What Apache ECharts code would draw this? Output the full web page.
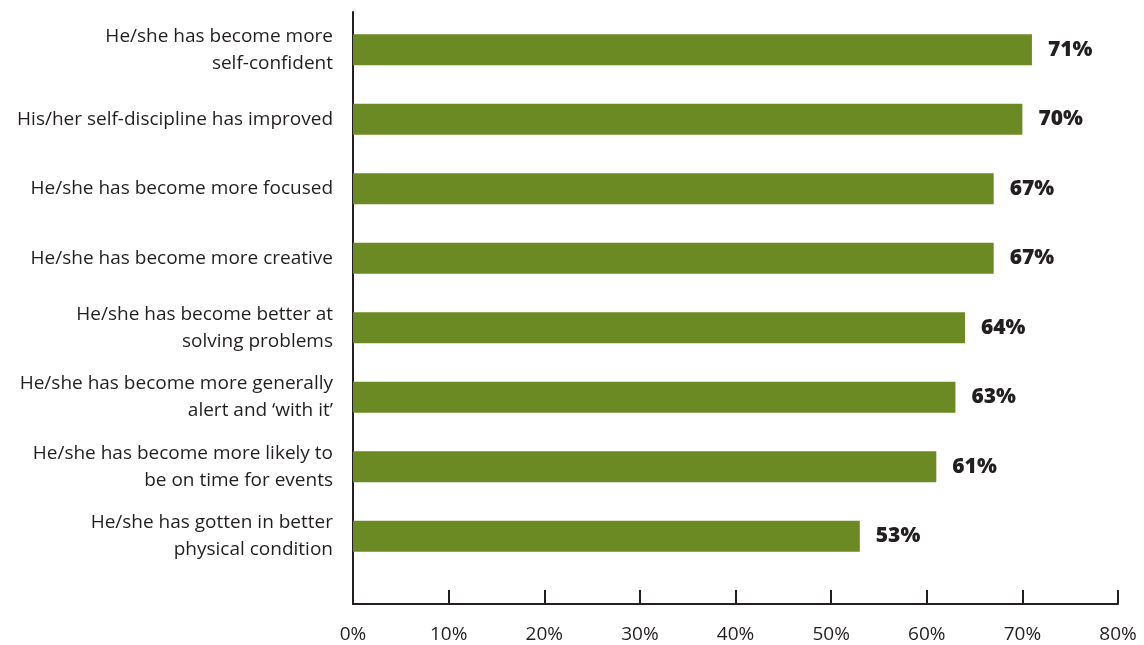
<!DOCTYPE html>
<html><head><meta charset="utf-8">
<script src="https://cdn.jsdelivr.net/npm/echarts@6/dist/echarts.min.js"></script>
<style>html,body{margin:0;padding:0;background:#fff}#c{width:1144px;height:645px}</style>
</head><body><div id="c"></div>
<script>
const categories = [
  'He/she has become more\nself-confident',
  'His/her self-discipline has improved',
  'He/she has become more focused',
  'He/she has become more creative',
  'He/she has become better at\nsolving problems',
  'He/she has become more generally\nalert and \u2018with it\u2019',
  'He/she has become more likely to\nbe on time for events',
  'He/she has gotten in better\nphysical condition'
];
const values = [71, 70, 67, 67, 64, 63, 61, 53];
const xTicks = { min: 0, max: 80, interval: 10 };

const ink = '#231f20';
const font = '"Open Sans", "Liberation Sans", sans-serif';
const chart = echarts.init(document.getElementById('c'));
chart.setOption({
  animation: false,
  grid: [
    { left: 353, right: 26, top: 15, height: 556 },
    { left: 353, right: 26, top: 12, bottom: 41 }
  ],
  xAxis: [
    { gridIndex: 0, type: 'value', min: xTicks.min, max: xTicks.max, interval: xTicks.interval,
      show: false },
    { gridIndex: 1, type: 'value', min: xTicks.min, max: xTicks.max, interval: xTicks.interval,
      axisLine: { show: true, lineStyle: { color: ink, width: 2 } },
      axisTick: { show: true, inside: true, length: 14, lineStyle: { color: ink, width: 2 } },
      splitLine: { show: false },
      axisLabel: { formatter: '{value}%', color: ink, fontSize: 19, fontFamily: font, margin: 21 } }
  ],
  yAxis: [
    { gridIndex: 0, type: 'category', inverse: true, data: categories,
      axisLine: { show: false }, axisTick: { show: false },
      axisLabel: { color: ink, fontSize: 19, fontFamily: font, margin: 20, lineHeight: 27, align: 'right' } },
    { gridIndex: 1, type: 'value', min: 0, max: 1,
      axisLine: { show: true, lineStyle: { color: ink, width: 2 } },
      axisTick: { show: false }, axisLabel: { show: false }, splitLine: { show: false } }
  ],
  series: [{
    type: 'bar', xAxisIndex: 0, yAxisIndex: 0,
    data: values, barWidth: 31,
    itemStyle: { color: '#6b8a23' },
    label: { show: true, position: 'right', distance: 16, formatter: '{c}%',
      color: ink, fontSize: 21, fontWeight: 800, fontFamily: font }
  }]
});
</script></body></html>
